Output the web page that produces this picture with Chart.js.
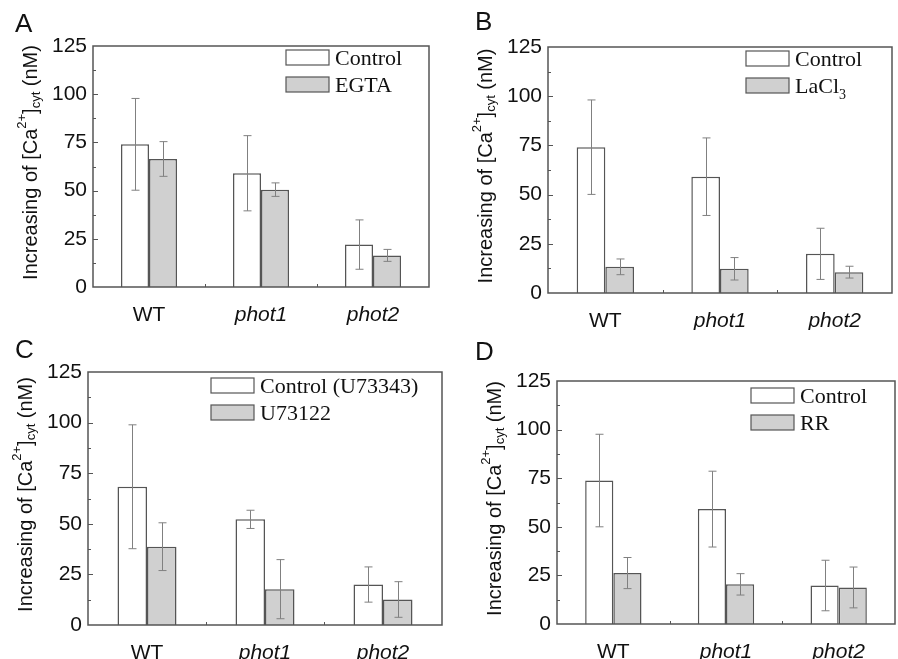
<!DOCTYPE html>
<html>
<head>
<meta charset="utf-8">
<script src="https://cdn.jsdelivr.net/npm/chart.js@4"></script>
<style>
  html, body { margin: 0; padding: 0; background: #fff; }
  #wrap { position: relative; width: 898px; height: 659px; overflow: hidden; }
  .panel { position: absolute; }
</style>
</head>
<body>
<div id="wrap">
  <div class="panel" style="left:0;top:0"><canvas id="chartA" width="449" height="330"></canvas></div>
  <div class="panel" style="left:449px;top:0"><canvas id="chartB" width="449" height="330"></canvas></div>
  <div class="panel" style="left:0;top:330px"><canvas id="chartC" width="449" height="329"></canvas></div>
  <div class="panel" style="left:449px;top:330px"><canvas id="chartD" width="449" height="329"></canvas></div>
</div>
<script>
// genotypes on the x axis
const groups = ['WT', 'phot1', 'phot2'];
const yTicks = [0, 25, 50, 75, 100, 125];

// A: EGTA
const egtaControl = [74.0, 59.0, 22.0];
const egtaControlErr = [23.8, 19.5, 12.8];
const egtaValues = [66.4, 50.5, 16.4];
const egtaErr = [9.0, 3.5, 3.1];

// B: LaCl3
const laControl = [74.1, 59.1, 19.9];
const laControlErr = [24.0, 19.7, 13.0];
const laValues = [13.3, 12.3, 10.6];
const laErr = [4.0, 5.7, 3.0];

// C: U73122 vs U73343
const uControl = [68.3, 52.2, 20.0];
const uControlErr = [30.6, 4.5, 8.7];
const uValues = [38.7, 17.7, 12.6];
const uErr = [11.8, 14.6, 8.8];

// D: ruthenium red
const rrControl = [73.8, 59.1, 19.8];
const rrControlErr = [23.8, 19.5, 13.0];
const rrValues = [26.2, 20.4, 18.8];
const rrErr = [8.0, 5.5, 10.5];

const SANS = "'Liberation Sans', Arial, sans-serif";
const SERIF = "'Liberation Serif', 'Times New Roman', serif";
const EDGE = '#555';
const GREY = '#d0d0d0';

// text made of pieces: [text, 'n' | 'sup' | 'sub']
function richWidth(ctx, parts, size, family) {
    let w = 0;
    parts.forEach(([t, mode]) => {
        ctx.font = (mode === 'n' ? size : Math.round(size * 0.65)) + 'px ' + family;
        w += ctx.measureText(t).width;
    });
    return w;
}
function drawRich(ctx, parts, x, y, size, family) {
    parts.forEach(([t, mode]) => {
        const s = mode === 'n' ? size : Math.round(size * 0.65);
        ctx.font = s + 'px ' + family;
        let dy = 0;
        if (mode === 'sup') dy = -size * 0.42;
        if (mode === 'sub') dy = size * 0.28;
        ctx.fillText(t, x, y + dy);
        x += ctx.measureText(t).width;
    });
}

const yTitle = [['Increasing of [Ca', 'n'], ['2+', 'sup'], [']', 'n'], ['cyt', 'sub'], [' (nM)', 'n']];

const decorPlugin = {
    id: 'decor',
    afterDatasetsDraw(chart) {
        const ctx = chart.ctx;
        const area = chart.chartArea;
        const ys = chart.scales.y;
        const xs = chart.scales.x;
        const opts = chart.options.plugins.decor;

        // error bars
        ctx.save();
        ctx.strokeStyle = '#808080';
        ctx.lineWidth = 1;
        chart.data.datasets.forEach((ds, i) => {
            const meta = chart.getDatasetMeta(i);
            meta.data.forEach((bar, j) => {
                const v = ds.data[j], e = ds.errors[j];
                const top = ys.getPixelForValue(v + e);
                const bot = ys.getPixelForValue(v - e);
                const x = Math.round(bar.x) + 0.5;
                ctx.beginPath();
                ctx.moveTo(x, top); ctx.lineTo(x, bot);
                ctx.moveTo(x - 4, top); ctx.lineTo(x + 4, top);
                ctx.moveTo(x - 4, bot); ctx.lineTo(x + 4, bot);
                ctx.stroke();
            });
        });
        ctx.restore();

        // frame and inward ticks
        ctx.save();
        ctx.strokeStyle = EDGE;
        ctx.lineWidth = 1.5;
        ctx.strokeRect(area.left, area.top, area.right - area.left, area.bottom - area.top);
        ctx.lineWidth = 1;
        ctx.beginPath();
        for (let v = 12.5; v < 125; v += 12.5) {
            const y = Math.round(ys.getPixelForValue(v)) + 0.5;
            const len = v % 25 === 0 ? 5 : 3;
            ctx.moveTo(area.left, y); ctx.lineTo(area.left + len, y);
        }
        for (let i = 0; i < groups.length - 1; i++) {
            const x = Math.round((xs.getPixelForValue(i) + xs.getPixelForValue(i + 1)) / 2) + 0.5;
            ctx.moveTo(x, area.bottom); ctx.lineTo(x, area.bottom - 3);
        }
        ctx.stroke();
        ctx.restore();

        // legend inside the plot
        ctx.save();
        const lx = area.right + opts.legendDx;
        let ly = area.top + opts.legendDy;
        chart.data.datasets.forEach(ds => {
            ctx.fillStyle = ds.backgroundColor;
            ctx.fillRect(lx, ly, 43, 15);
            ctx.strokeStyle = EDGE;
            ctx.lineWidth = 1.2;
            ctx.strokeRect(lx, ly, 43, 15);
            ctx.fillStyle = '#111';
            ctx.textBaseline = 'alphabetic';
            drawRich(ctx, ds.labelParts, lx + 49, ly + 15, 22, SERIF);
            ly += 27;
        });
        ctx.restore();

        // y title, rotated
        ctx.save();
        ctx.fillStyle = '#111';
        ctx.textBaseline = 'middle';
        const cy = (area.top + area.bottom) / 2 - 4;
        ctx.translate(area.left - 62, cy);
        ctx.rotate(-Math.PI / 2);
        const w = richWidth(ctx, yTitle, 20, SANS);
        drawRich(ctx, yTitle, -w / 2, 0, 20, SANS);
        ctx.restore();

        // panel letter
        ctx.save();
        ctx.fillStyle = '#111';
        ctx.font = '26px ' + SANS;
        ctx.textBaseline = 'alphabetic';
        ctx.fillText(opts.letter, opts.letterX, opts.letterY);
        ctx.restore();
    }
};

function makePanel(id, letter, ctrl, ctrlErr, treat, treatErr, ctrlLabel, treatLabel, box, extra) {
    const canvas = document.getElementById(id);
    const H = canvas.height, W = canvas.width;
    return new Chart(canvas, {
        type: 'bar',
        data: {
            labels: groups,
            datasets: [
                { data: ctrl, errors: ctrlErr, labelParts: ctrlLabel, backgroundColor: '#ffffff',
                  borderColor: EDGE, borderWidth: 1.5 },
                { data: treat, errors: treatErr, labelParts: treatLabel, backgroundColor: GREY,
                  borderColor: EDGE, borderWidth: 1.5 }
            ]
        },
        options: {
            responsive: false,
            animation: false,
            devicePixelRatio: 1,
            layout: { padding: { left: 0, top: box.top, right: W - box.right, bottom: 0 } },
            datasets: { bar: { categoryPercentage: 0.5, barPercentage: 1.0 } },
            plugins: {
                legend: { display: false },
                tooltip: { enabled: false },
                decor: Object.assign({ letter: letter }, extra)
            },
            scales: {
                x: {
                    grid: { display: false, drawTicks: false },
                    border: { display: false },
                    ticks: {
                        color: '#111',
                        padding: 16,
                        maxRotation: 0,
                        font: c => ({ family: SANS, size: 21, style: c.index === 0 ? 'normal' : 'italic' })
                    },
                    afterFit: s => { s.height = H - box.bottom; }
                },
                y: {
                    min: 0, max: 125,
                    grid: { display: false, drawTicks: false },
                    border: { display: false },
                    afterBuildTicks: s => { s.ticks = yTicks.map(v => ({ value: v })); },
                    ticks: { color: '#111', padding: 6, font: { family: SANS, size: 21 } },
                    afterFit: s => { s.width = box.left; }
                }
            }
        },
        plugins: [decorPlugin]
    });
}

makePanel('chartA', 'A', egtaControl, egtaControlErr, egtaValues, egtaErr,
    [['Control', 'n']], [['EGTA', 'n']],
    { left: 93, top: 46, right: 429, bottom: 287 },
    { legendDx: -143, legendDy: 4, letterX: 15, letterY: 32 });

makePanel('chartB', 'B', laControl, laControlErr, laValues, laErr,
    [['Control', 'n']], [['LaCl', 'n'], ['3', 'sub']],
    { left: 99, top: 47, right: 443, bottom: 293 },
    { legendDx: -146, legendDy: 4, letterX: 26, letterY: 30 });

makePanel('chartC', 'C', uControl, uControlErr, uValues, uErr,
    [['Control (U73343)', 'n']], [['U73122', 'n']],
    { left: 88, top: 42, right: 442, bottom: 295 },
    { legendDx: -231, legendDy: 6, letterX: 15, letterY: 28 });

makePanel('chartD', 'D', rrControl, rrControlErr, rrValues, rrErr,
    [['Control', 'n']], [['RR', 'n']],
    { left: 108, top: 51, right: 446, bottom: 294 },
    { legendDx: -144, legendDy: 7, letterX: 26, letterY: 30 });
</script>
</body>
</html>
